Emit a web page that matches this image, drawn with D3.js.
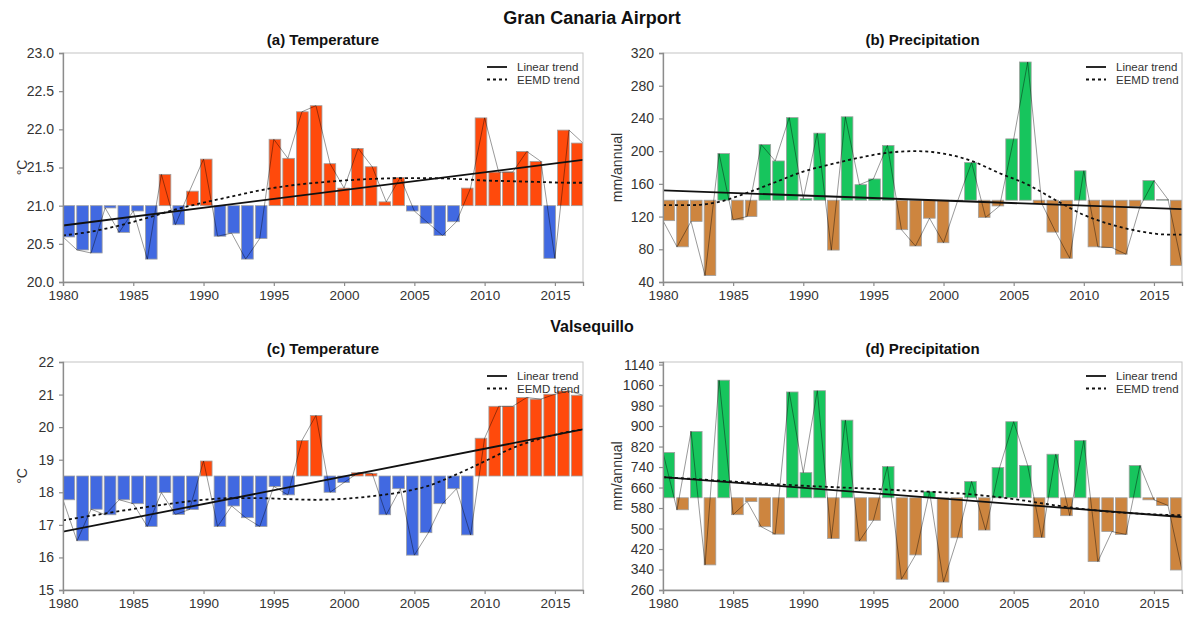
<!DOCTYPE html>
<html>
<head>
<meta charset="utf-8">
<script src="https://cdn.jsdelivr.net/npm/d3@7"></script>
<style>
  html, body { margin: 0; padding: 0; background: #fff; }
  svg { display: block; font-family: "Liberation Sans", Arial, Helvetica, sans-serif; }
</style>
</head>
<body>
<svg id="chart" width="1184" height="617"></svg>
<script>
// ---- data -------------------------------------------------------------
const years = [1980, 1981, 1982, 1983, 1984, 1985, 1986, 1987, 1988, 1989,
               1990, 1991, 1992, 1993, 1994, 1995, 1996, 1997, 1998, 1999,
               2000, 2001, 2002, 2003, 2004, 2005, 2006, 2007, 2008, 2009,
               2010, 2011, 2012, 2013, 2014, 2015, 2016, 2017];
const xTickYears = [1980, 1985, 1990, 1995, 2000, 2005, 2010, 2015];

// Gran Canaria Airport: annual mean temperature (°C)
const airportTemp = [20.59, 20.42, 20.38, 20.97, 20.65, 20.93, 20.30, 21.41, 20.75, 21.19,
                     21.61, 20.60, 20.64, 20.30, 20.57, 21.87, 21.62, 22.23, 22.31, 21.55,
                     21.23, 21.75, 21.51, 21.05, 21.37, 20.93, 20.77, 20.61, 20.79, 21.23,
                     22.15, 21.44, 21.44, 21.71, 21.58, 20.31, 21.99, 21.82];
// Gran Canaria Airport: annual precipitation (mm)
const airportPrecip = [115, 83, 114, 48, 197, 116, 120, 208, 188, 241,
                       142, 222, 79, 242, 159, 166, 207, 104, 84, 118,
                       88, 139, 186, 119, 133, 215, 309, 136, 101, 69,
                       176, 83, 82, 74, 132, 164, 141, 60];
// Valsequillo: annual mean temperature (°C)
const valsTemp = [17.77, 16.51, 17.48, 17.31, 17.77, 17.65, 16.95, 17.99, 17.32, 17.47,
                  18.96, 16.95, 17.58, 17.22, 16.95, 18.18, 17.92, 19.59, 20.36, 18.00,
                  18.30, 18.60, 18.58, 17.31, 18.11, 16.07, 16.76, 17.65, 18.11, 16.69,
                  19.66, 20.64, 20.64, 20.91, 20.86, 21.01, 21.11, 20.98];
// Valsequillo: annual precipitation (mm)
const valsPrecip = [797, 573, 879, 358, 1079, 554, 605, 507, 478, 1033,
                    718, 1038, 461, 923, 451, 532, 742, 302, 397, 644,
                    291, 464, 684, 494, 738, 917, 746, 465, 790, 550,
                    844, 371, 488, 477, 746, 612, 590, 338];

// reference levels the bars grow from
const airportTempBase = 21.0;
const airportPrecipBase = 140;
const valsTempBase = 18.5;
const valsPrecipBase = 620;

// linear trend, values at 1980 and 2017
const trendYears = [1980, 2017];
const airportTempLinear = [20.74, 21.60];
const airportPrecipLinear = [152, 129];
const valsTempLinear = [16.79, 19.93];
const valsPrecipLinear = [701, 545];

// EEMD trend samples
const eemdYears = [1980, 1982, 1984, 1986, 1988, 1990, 1992, 1994, 1996, 1998,
                   2000, 2002, 2004, 2006, 2008, 2010, 2012, 2014, 2016, 2017];
const airportTempEemd = [20.61, 20.66, 20.74, 20.84, 20.95, 21.04, 21.12, 21.20, 21.26, 21.30,
                         21.33, 21.35, 21.36, 21.36, 21.35, 21.33, 21.32, 21.31, 21.30, 21.30];
const airportPrecipEemd = [134, 134, 138, 149, 162, 175, 184, 192, 198, 200,
                           197, 188, 173, 159, 140, 122, 110, 102, 98, 98];
const valsTempEemd = [17.14, 17.28, 17.42, 17.55, 17.67, 17.77, 17.82, 17.82, 17.79, 17.77,
                      17.80, 17.88, 18.00, 18.20, 18.55, 18.95, 19.36, 19.65, 19.86, 19.93];
const valsPrecipEemd = [700, 694, 687, 680, 673, 667, 662, 657, 652, 646,
                        641, 633, 622, 607, 590, 576, 565, 558, 553, 552];

// y-axis tick labels
const tempTicksA = [20.0, 20.5, 21.0, 21.5, 22.0, 22.5, 23.0];
const precipTicksB = [40, 80, 120, 160, 200, 240, 280, 320];
const tempTicksC = [15, 16, 17, 18, 19, 20, 21, 22];
const precipTicksD = [260, 340, 420, 500, 580, 660, 740, 820, 900, 980, 1060, 1140];

// ---- styling ----------------------------------------------------------
const COLORS = {
  warm: "#ff4a0c", cool: "#4169e1",
  wet: "#17c55d", dry: "#cd853f"
};

const panels = [
  { title: "(a) Temperature", left: 63, top: 53, width: 520, height: 229,
    domain: [20, 23], ticks: tempTicksA, fmt: d3.format(".1f"), ylabel: "°C", ylabelX: 22,
    values: airportTemp, base: airportTempBase, hi: COLORS.warm, lo: COLORS.cool,
    linear: airportTempLinear, eemd: airportTempEemd },
  { title: "(b) Precipitation", left: 663, top: 53, width: 519, height: 229,
    domain: [40, 320], ticks: precipTicksB, fmt: d3.format("d"), ylabel: "mm/annual", ylabelX: 617,
    values: airportPrecip, base: airportPrecipBase, hi: COLORS.wet, lo: COLORS.dry,
    linear: airportPrecipLinear, eemd: airportPrecipEemd },
  { title: "(c) Temperature", left: 63, top: 362, width: 520, height: 228,
    domain: [15, 22], ticks: tempTicksC, fmt: d3.format("d"), ylabel: "°C", ylabelX: 22,
    values: valsTemp, base: valsTempBase, hi: COLORS.warm, lo: COLORS.cool,
    linear: valsTempLinear, eemd: valsTempEemd },
  { title: "(d) Precipitation", left: 663, top: 362, width: 519, height: 228,
    domain: [260, 1150], ticks: precipTicksD, fmt: d3.format("d"), ylabel: "mm/annual", ylabelX: 617,
    values: valsPrecip, base: valsPrecipBase, hi: COLORS.wet, lo: COLORS.dry,
    linear: valsPrecipLinear, eemd: valsPrecipEemd }
];

const svg = d3.select("#chart");

// station headings
svg.append("text").attr("x", 592).attr("y", 24).attr("text-anchor", "middle")
  .attr("font-size", 18).attr("font-weight", "bold").attr("fill", "#111")
  .text("Gran Canaria Airport");
svg.append("text").attr("x", 592).attr("y", 332).attr("text-anchor", "middle")
  .attr("font-size", 16).attr("font-weight", "bold").attr("fill", "#111")
  .text("Valsequillo");

panels.forEach(p => {
  const g = svg.append("g").attr("transform", `translate(${p.left},${p.top})`);
  const W = p.width, H = p.height;

  // bars sit in bands; lines, ticks and trends use a continuous year scale
  const xBar = d3.scaleBand().domain(years).range([0, W]).paddingInner(0.15).paddingOuter(0);
  const xYear = d3.scaleLinear().domain([1980, 2017]).range([0, W]);
  const y = d3.scaleLinear().domain(p.domain).range([H, 0]);

  const clip = "clip-" + p.title.slice(1, 2);
  g.append("clipPath").attr("id", clip).append("rect").attr("width", W).attr("height", H);
  const plot = g.append("g").attr("clip-path", `url(#${clip})`);

  const series = years.map((yr, i) => ({ year: yr, v: p.values[i] }));

  // anomaly bars
  plot.selectAll("rect.bar").data(series).join("rect")
    .attr("class", "bar")
    .attr("x", d => xBar(d.year))
    .attr("width", xBar.bandwidth())
    .attr("y", d => y(Math.max(d.v, p.base)))
    .attr("height", d => Math.abs(y(d.v) - y(p.base)))
    .attr("fill", d => d.v >= p.base ? p.hi : p.lo)
    .attr("stroke", "#a0a0a0")
    .attr("stroke-width", 0.8);

  // year-to-year connecting line
  plot.append("path").datum(series)
    .attr("fill", "none").attr("stroke", "#000").attr("stroke-opacity", 0.4)
    .attr("stroke-width", 1)
    .attr("d", d3.line().x(d => xYear(d.year)).y(d => y(d.v)));

  // linear trend
  plot.append("path").datum(trendYears.map((yr, i) => ({ year: yr, v: p.linear[i] })))
    .attr("fill", "none").attr("stroke", "#111").attr("stroke-width", 1.8)
    .attr("d", d3.line().x(d => xYear(d.year)).y(d => y(d.v)));

  // EEMD trend
  plot.append("path").datum(eemdYears.map((yr, i) => ({ year: yr, v: p.eemd[i] })))
    .attr("fill", "none").attr("stroke", "#111").attr("stroke-width", 1.8)
    .attr("stroke-dasharray", "3,3")
    .attr("d", d3.line().curve(d3.curveMonotoneX).x(d => xYear(d.year)).y(d => y(d.v)));

  // frame
  g.append("rect").attr("width", W).attr("height", H)
    .attr("fill", "none").attr("stroke", "#c4c4c4").attr("stroke-width", 1);

  // axes
  const yAxis = g.append("g").call(d3.axisLeft(y).tickValues(p.ticks).tickFormat(p.fmt).tickSize(4).tickPadding(5));
  const xAxis = g.append("g").attr("transform", `translate(0,${H})`)
    .call(d3.axisBottom(xYear).tickValues(xTickYears).tickFormat(d3.format("d")).tickSize(4).tickPadding(4));
  [yAxis, xAxis].forEach(a => {
    a.select(".domain").attr("stroke", "#8c8c8c").attr("stroke-width", 1.3);
    a.selectAll(".tick line").attr("stroke", "#8c8c8c").attr("stroke-width", 1.2);
    a.selectAll(".tick text").attr("fill", "#333")
      .attr("font-family", "'Liberation Sans', Arial, sans-serif");
  });
  yAxis.selectAll(".tick text").attr("font-size", 14);
  xAxis.selectAll(".tick text").attr("font-size", 13.5);

  // titles
  g.append("text").attr("x", W / 2).attr("y", -8).attr("text-anchor", "middle")
    .attr("font-size", 15).attr("font-weight", "bold").attr("fill", "#111").text(p.title);
  svg.append("text")
    .attr("transform", `translate(${p.ylabelX},${p.top + H / 2}) rotate(-90)`)
    .attr("text-anchor", "middle").attr("dy", "0.35em")
    .attr("font-size", 14).attr("fill", "#333").text(p.ylabel);

  // legend
  const lg = g.append("g").attr("transform", `translate(${W - 96},14)`);
  const items = [{ label: "Linear trend", dash: null }, { label: "EEMD trend", dash: "3,3" }];
  items.forEach((it, i) => {
    const row = lg.append("g").attr("transform", `translate(0,${i * 12.5})`);
    row.append("line").attr("x1", 0).attr("x2", 20).attr("y1", 0).attr("y2", 0)
      .attr("stroke", "#111").attr("stroke-width", 1.8)
      .attr("stroke-dasharray", it.dash);
    row.append("text").attr("x", 30).attr("y", 0).attr("dy", "0.35em")
      .attr("font-size", 11.5).attr("fill", "#333").text(it.label);
  });
});
</script>
</body>
</html>
